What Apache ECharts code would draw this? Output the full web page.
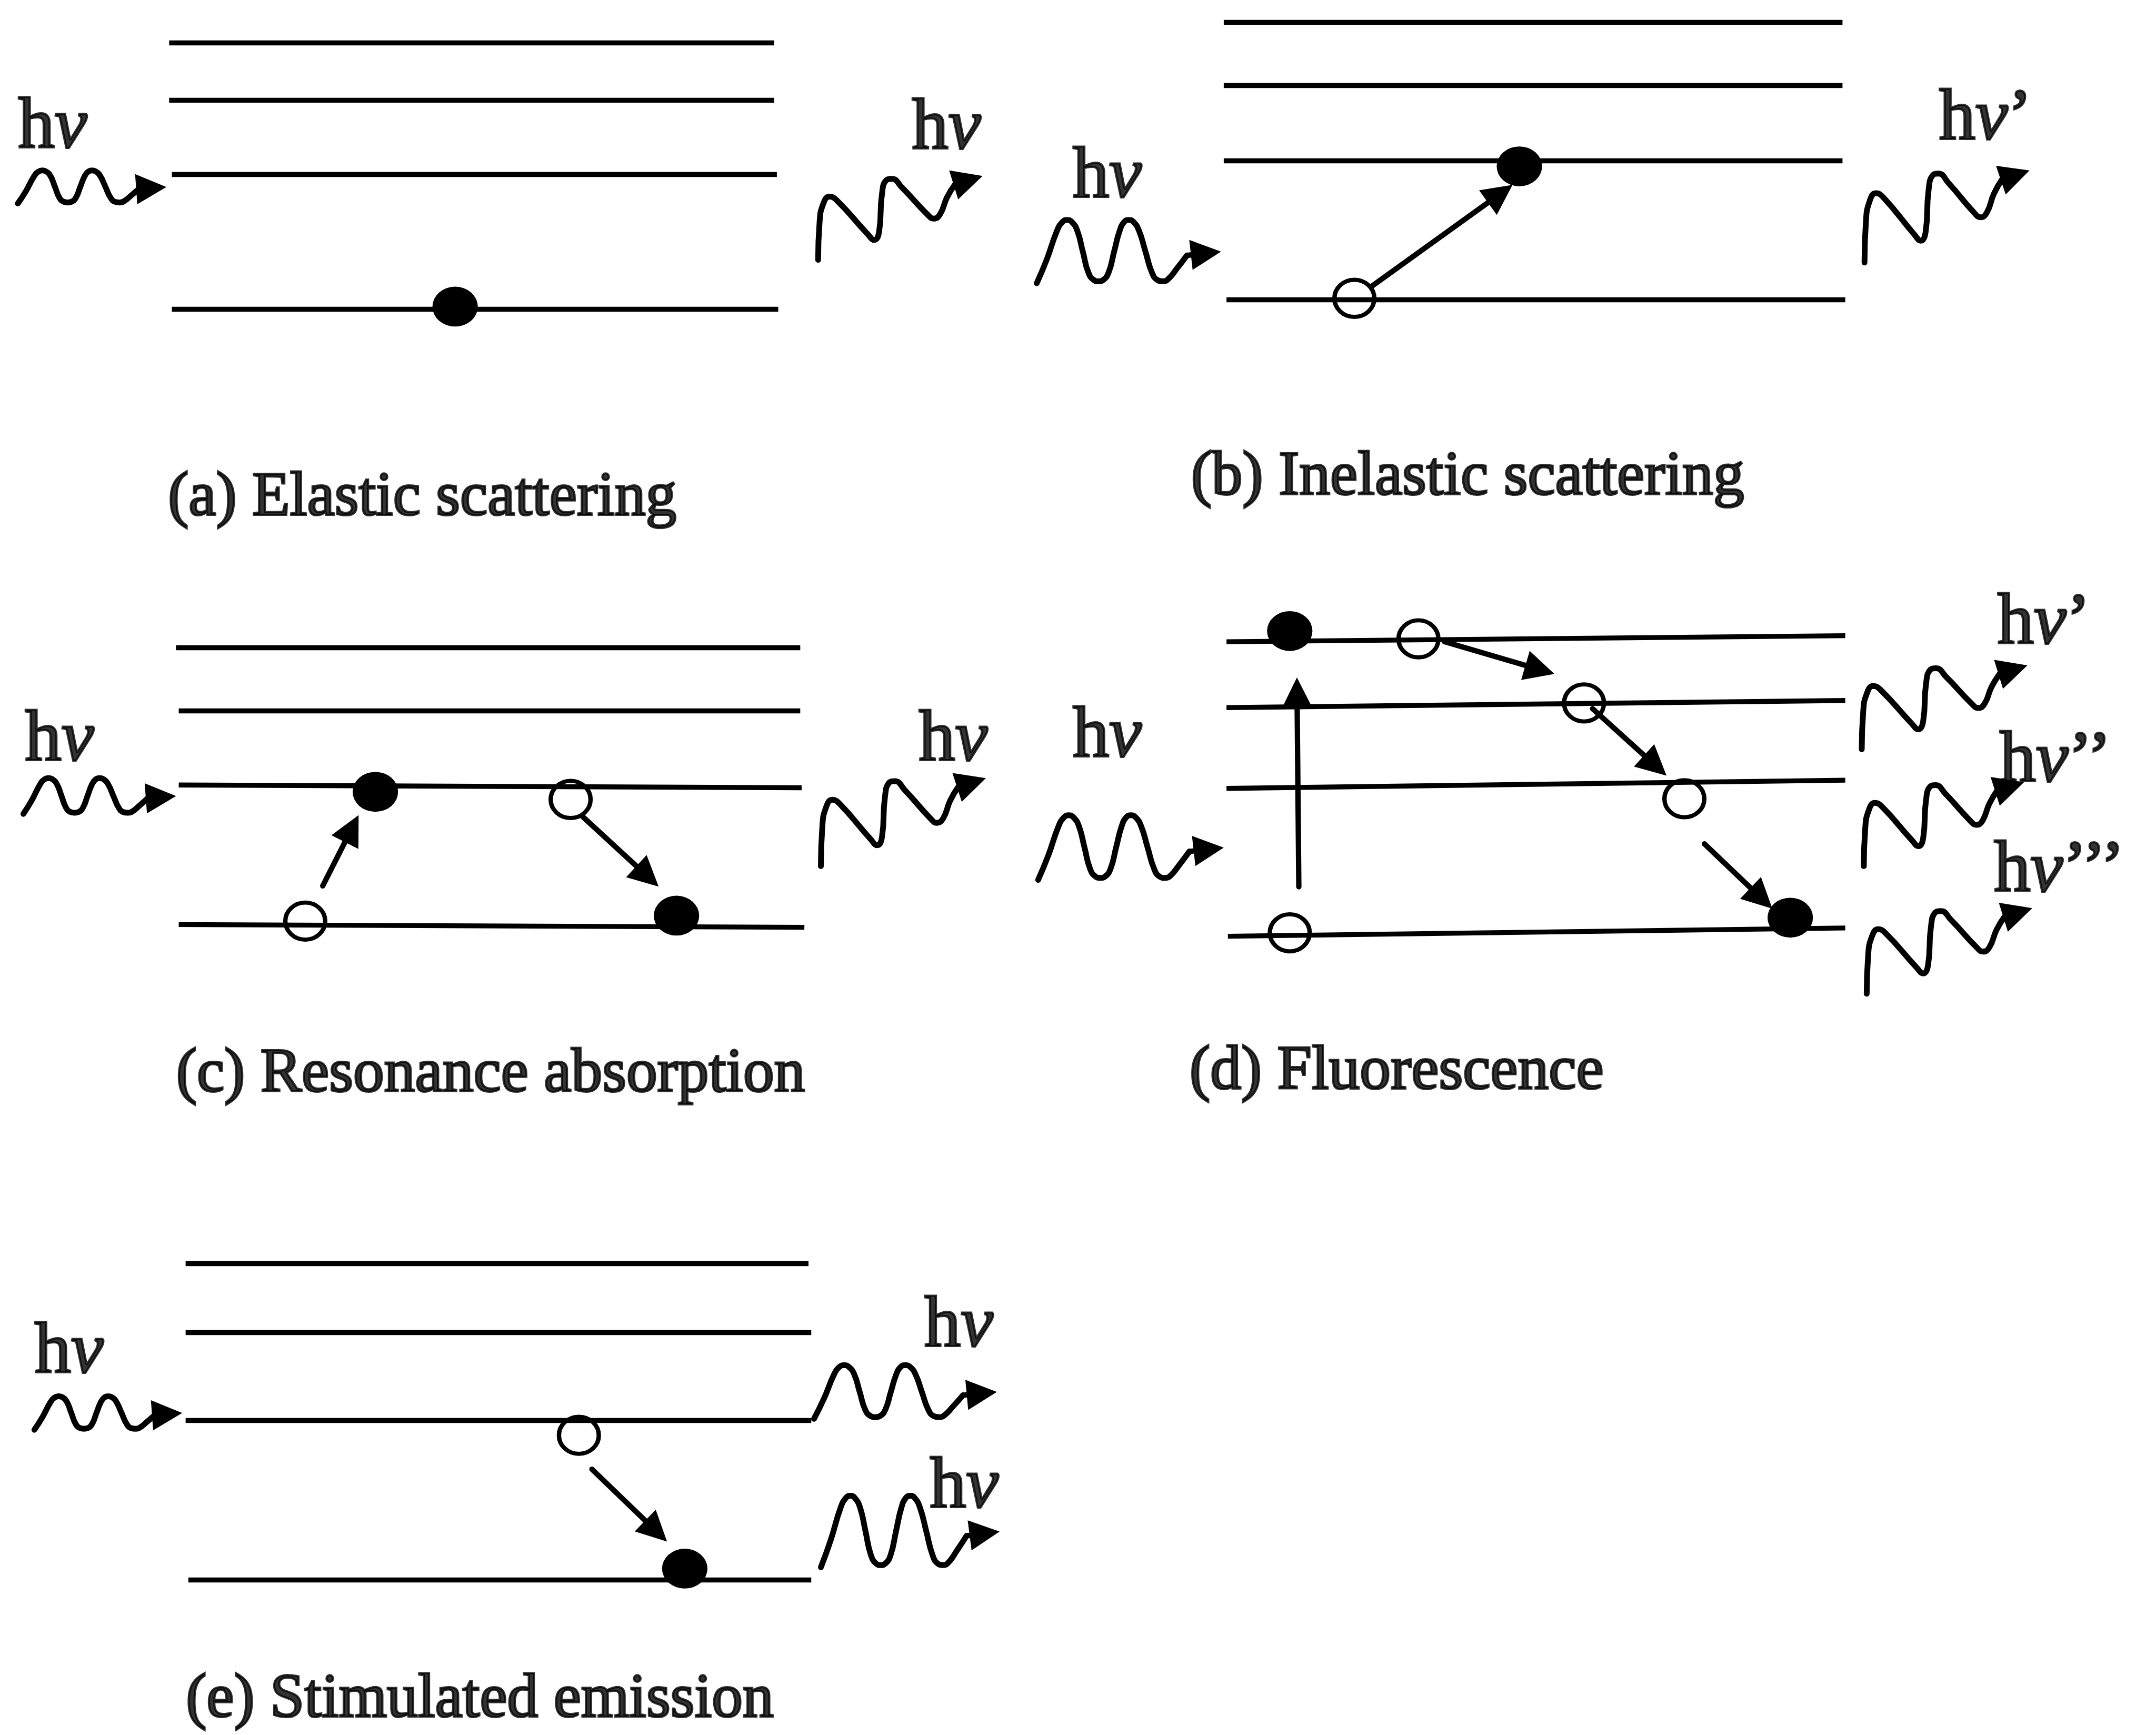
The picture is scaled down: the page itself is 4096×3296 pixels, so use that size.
<!DOCTYPE html>
<html>
<head>
<meta charset="utf-8">
<title>Light–matter interaction processes</title>
<script src="https://cdn.jsdelivr.net/npm/echarts@6/dist/echarts.min.js"></script>
<style>
  html, body { margin: 0; padding: 0; background: #ffffff; }
  #chart { width: 4096px; height: 3296px; }
</style>
</head>
<body>
<div id="chart"></div>
<script>
// Diagram space: 1568 x 1262 units (x to the right, y downward)
const FIG_W = 1568, FIG_H = 1262;

// Energy levels of each panel: [x0, y0, x1, y1]
const levelsA = [[123, 31, 563, 31], [123, 73, 563, 73], [125, 127, 565, 127], [125, 225, 566, 225]];
const levelsB = [[890, 16, 1340, 16], [890, 62, 1340, 62], [890, 117, 1340, 117], [892, 218, 1342, 218]];
const levelsC = [[128, 471, 582, 471], [130, 517, 582, 517], [130, 571, 583, 573], [130, 672.5, 585, 674.5]];
const levelsD = [[892, 466.8, 1342, 462.4], [892, 514.7, 1342, 509.5], [892, 573.5, 1342, 567.5], [893, 681, 1342, 675]];
const levelsE = [[135, 919, 588, 919], [135, 969, 590, 969], [135, 1033, 590, 1033], [137, 1149, 590, 1149]];

// Occupied states (filled dots) and vacated states (open circles): [x, y]
const filledStates = [[331, 223], [1105, 121], [273, 576], [492, 666], [938, 459], [1302, 667.5], [498, 1141]];
const openStates = [[985, 217], [222, 670], [415, 581.5], [1031.6, 464.7], [1152, 511.3], [1225, 581], [938, 678.5], [421, 1044]];

// Electron transitions: [fromX, fromY, tipX, tipY]
const transitions = [
  [998, 208, 1100, 134.5],
  [234.7, 644.4, 260.8, 592.9],
  [423.6, 593.9, 479, 644.9],
  [944.6, 645, 943.2, 492.8],
  [1050.4, 466.7, 1130.5, 490.2],
  [1158.2, 515.5, 1212, 564.2],
  [1239.6, 613.8, 1289, 661],
  [430.5, 1068.7, 485.1, 1121.3]
];

// Photon outlines, in unit box coordinates (last two points: arrow base, arrow tip)
const waveLevel = [[0, 1], [0.055, 0.62], [0.11, 0.17], [0.14, 0.03], [0.165, 0], [0.19, 0.03],
  [0.22, 0.17], [0.25, 0.5], [0.28, 0.83], [0.31, 0.95], [0.335, 0.97], [0.36, 0.95], [0.39, 0.83],
  [0.42, 0.5], [0.45, 0.17], [0.475, 0.03], [0.5, 0], [0.525, 0.03], [0.555, 0.17], [0.59, 0.5],
  [0.625, 0.83], [0.655, 0.95], [0.685, 0.97], [0.715, 0.93], [0.76, 0.77], [0.815, 0.56], [1, 0.5]];
const waveRising = [[0, 1], [0.0086, 0.559], [0.03, 0.339], [0.069, 0.246], [0.112, 0.288], [0.302, 0.695],
  [0.341, 0.763], [0.371, 0.661], [0.388, 0.22], [0.414, 0.051], [0.448, 0.034], [0.509, 0.136],
  [0.664, 0.458], [0.703, 0.508], [0.741, 0.458], [0.784, 0.254], [0.832, 0.102], [1, 0]];

// Photons: [outline, x0, y0, x1, y1]
const photons = [
  ['level', 13, 124, 121, 148],
  ['rising', 595, 128, 714.6, 189],
  ['level', 754, 160, 888, 206],
  ['rising', 1356, 124, 1476, 191],
  ['level', 17, 566, 128, 592],
  ['rising', 597, 566, 717, 630],
  ['level', 755, 593, 890, 640],
  ['rising', 1354, 484, 1474.5, 545],
  ['rising', 1355.5, 569, 1472, 630],
  ['rising', 1357.6, 660.6, 1478, 722.8],
  ['level', 25, 1015.6, 132.5, 1040],
  ['level', 592, 993, 725, 1032],
  ['level', 597, 1088, 727, 1140]
];

// Photon energy labels: [primes, left x, baseline y]
const photonLabels = [
  ['', 13, 111], ['', 663, 112], ['', 780, 147], ['’', 1410, 105],
  ['', 18, 557], ['', 668, 557], ['', 780, 554],
  ['’', 1452.5, 472], ['’’', 1454, 572], ['’’’', 1450, 652],
  ['', 25, 1002], ['', 672, 983], ['', 676, 1100]
];

// Panel captions: [text, left x, baseline y]
const panelTitles = [
  ['(a) Elastic scattering', 122, 378],
  ['(b) Inelastic scattering', 866, 363],
  ['(c) Resonance absorption', 128, 797],
  ['(d) Fluorescence', 865, 795],
  ['(e) Stimulated emission', 135, 1252]
];

// ---- styling (diagram units, scaled to the canvas) ----
const K = 4096 / FIG_W;
const INK = '#000000';
const LEVEL_W = 3.6, WAVE_W = 4.2, ARROW_W = 3.9, HEAD = 22, RING_W = 3.1;
const DOT_SIZE = [33, 29], RING_SIZE = [29, 27];
const HV_FONT = 53, TITLE_FONT = 45;
const MID_FROM_BASELINE = 0.3375;
const SERIF = "'Liberation Serif', 'Times New Roman', serif";

const outlines = { level: waveLevel, rising: waveRising };

// Place the arrowhead so that its tip lands on the given point
function headCenter(fx, fy, tx, ty) {
  const dx = tx - fx, dy = ty - fy, len = Math.hypot(dx, dy);
  return [tx - dx / len * HEAD / 2, ty - dy / len * HEAD / 2];
}

const levelData = [].concat(levelsA, levelsB, levelsC, levelsD, levelsE)
  .map(l => ({ coords: [[l[0], l[1]], [l[2], l[3]]] }));

const arrowData = transitions.map(t => ({ coords: [[t[0], t[1]], headCenter(t[0], t[1], t[2], t[3])] }));

const waveSeries = [];
photons.forEach((p, i) => {
  const shape = outlines[p[0]];
  const pts = shape.map(([u, v]) => [p[1] + u * (p[3] - p[1]), p[2] + v * (p[4] - p[2])]);
  const tip = pts[pts.length - 1];
  const base = pts[pts.length - 2];
  waveSeries.push({
    type: 'line',
    name: 'photon' + i,
    data: pts.slice(0, pts.length - 1),
    smooth: 0.5,
    symbol: 'none',
    clip: false,
    silent: true,
    z: 3,
    lineStyle: { color: INK, width: WAVE_W * K, cap: 'round', join: 'round' }
  });
  arrowData.push({ coords: [base, headCenter(base[0], base[1], tip[0], tip[1])] });
});

function textStyle(size, italic) {
  return {
    fontFamily: SERIF,
    fontSize: size * K,
    fontStyle: italic ? 'italic' : 'normal',
    color: INK,
    textBorderColor: INK,
    textBorderWidth: 1.6 * K
  };
}

const labelData = photonLabels.map(([primes, x, y]) => ({
  value: [x, y - MID_FROM_BASELINE * HV_FONT],
  label: { formatter: '{h|h}{n|ν}' + (primes ? '{p|' + primes + '}' : '') }
}));

const titleData = panelTitles.map(([text, x, y]) => ({
  value: [x, y - MID_FROM_BASELINE * TITLE_FONT],
  label: { formatter: text }
}));

const chart = echarts.init(document.getElementById('chart'), null, { renderer: 'canvas' });
chart.setOption({
  animation: false,
  backgroundColor: '#ffffff',
  color: [INK],
  grid: { left: 0, right: 0, top: 0, bottom: 0, containLabel: false },
  xAxis: { type: 'value', min: 0, max: FIG_W, show: false },
  yAxis: { type: 'value', min: 0, max: FIG_H, inverse: true, show: false },
  series: [
    {
      type: 'lines',
      name: 'levels',
      coordinateSystem: 'cartesian2d',
      data: levelData,
      symbol: 'none',
      silent: true,
      z: 1,
      lineStyle: { color: INK, width: LEVEL_W * K, opacity: 1, curveness: 0, cap: 'butt' }
    },
    ...waveSeries,
    {
      type: 'lines',
      name: 'arrows',
      coordinateSystem: 'cartesian2d',
      data: arrowData,
      symbol: ['none', 'triangle'],
      symbolSize: HEAD * K,
      silent: true,
      z: 4,
      lineStyle: { color: INK, width: ARROW_W * K, opacity: 1, curveness: 0, cap: 'round' }
    },
    {
      type: 'scatter',
      name: 'occupied',
      data: filledStates,
      symbol: 'circle',
      symbolSize: [DOT_SIZE[0] * K, DOT_SIZE[1] * K],
      silent: true,
      z: 5,
      itemStyle: { color: INK, opacity: 1 }
    },
    {
      type: 'scatter',
      name: 'vacated',
      data: openStates,
      symbol: 'circle',
      symbolSize: [RING_SIZE[0] * K, RING_SIZE[1] * K],
      silent: true,
      z: 5,
      itemStyle: { color: 'rgba(0,0,0,0)', borderColor: INK, borderWidth: RING_W * K, opacity: 1 }
    },
    {
      type: 'scatter',
      name: 'photon labels',
      data: labelData,
      symbolSize: 1,
      silent: true,
      z: 6,
      itemStyle: { color: 'rgba(0,0,0,0)' },
      label: {
        show: true,
        position: 'right',
        distance: 0,
        rich: {
          h: textStyle(HV_FONT, false),
          n: textStyle(HV_FONT, true),
          p: textStyle(HV_FONT, false)
        }
      }
    },
    {
      type: 'scatter',
      name: 'captions',
      data: titleData,
      symbolSize: 1,
      silent: true,
      z: 6,
      itemStyle: { color: 'rgba(0,0,0,0)' },
      label: Object.assign({ show: true, position: 'right', distance: 0 }, textStyle(TITLE_FONT, false))
    }
  ]
});
</script>
</body>
</html>
